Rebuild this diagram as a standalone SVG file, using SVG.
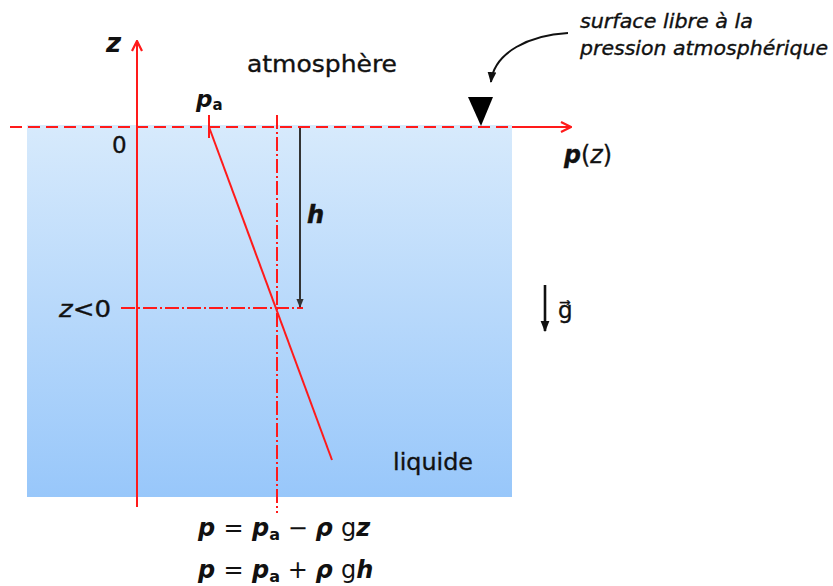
<svg xmlns="http://www.w3.org/2000/svg" width="833" height="586" viewBox="0 0 833 586">
<style>
  .t { font-family: "DejaVu Sans", Verdana, sans-serif; fill: #111; stroke: #111; stroke-width: 0.35; }
  .sym { font-family: "DejaVu Sans", Verdana, sans-serif; font-style: italic; font-weight: bold; fill: #111; }
  .red { stroke: #ff1a1a; stroke-width: 2; fill: none; }
</style>
<defs>
  <linearGradient id="water" x1="0" y1="0" x2="0" y2="1">
    <stop offset="0" stop-color="#d7eafc"/>
    <stop offset="1" stop-color="#98c7fa"/>
  </linearGradient>
  <marker id="redHead" viewBox="0 0 12 12" refX="11" refY="6" markerWidth="12" markerHeight="12" markerUnits="userSpaceOnUse" orient="auto">
    <path d="M1,1 L11,6 L1,11" fill="none" stroke="#ff1a1a" stroke-width="2.2"/>
  </marker>
  <marker id="blackHead" viewBox="0 0 10 10" refX="9" refY="5" markerWidth="11" markerHeight="11" markerUnits="userSpaceOnUse" orient="auto">
    <path d="M0,1 L10,5 L0,9 Z" fill="#111"/>
  </marker>
  <marker id="grayHead" viewBox="0 0 10 10" refX="9" refY="5" markerWidth="9" markerHeight="9" markerUnits="userSpaceOnUse" orient="auto">
    <path d="M0,1 L10,5 L0,9 Z" fill="#333"/>
  </marker>
</defs>

<g id="liquid">
  <rect x="27" y="125" width="485" height="372" fill="url(#water)"/>
  <text class="t" x="393" y="470" font-size="23" textLength="80" lengthAdjust="spacingAndGlyphs">liquide</text>
</g>

<g id="connectors">
  <line class="red" x1="10" y1="127" x2="512" y2="127" stroke-dasharray="12,6"/>
  <line class="red" x1="512" y1="127" x2="571" y2="127" marker-end="url(#redHead)"/>
  <line class="red" x1="137" y1="507" x2="137" y2="41" marker-end="url(#redHead)"/>
  <line class="red" x1="209" y1="115" x2="209" y2="138"/>
  <line class="red" x1="209" y1="127" x2="332" y2="460"/>
  <line class="red" x1="277" y1="115" x2="277" y2="513" stroke-width="1.5" stroke-dasharray="14,3,2,3"/>
  <line class="red" x1="121" y1="308" x2="303" y2="308" stroke-width="1.5" stroke-dasharray="14,3,2,3"/>
  <line x1="300" y1="128" x2="300" y2="307" stroke="#333" stroke-width="2" marker-end="url(#grayHead)"/>
  <line x1="545" y1="285" x2="545" y2="331" stroke="#111" stroke-width="2.6" marker-end="url(#blackHead)"/>
  <path d="M568,33 C530,35 494,52 491,82" fill="none" stroke="#111" stroke-width="2" marker-end="url(#blackHead)"/>
</g>

<g id="surface-marker">
  <path d="M468,97 L493,97 L481,126 Z" fill="#000"/>
</g>

<g id="labels">
  <text class="sym" x="106" y="52" font-size="26">z</text>
  <text class="t" x="247" y="72" font-size="23" textLength="150" lengthAdjust="spacingAndGlyphs">atmosphère</text>
  <text class="sym" x="196" y="107" font-size="23">p<tspan font-size="15" font-style="normal" dy="3">a</tspan></text>
  <text class="t" x="112" y="153" font-size="23">0</text>
  <text class="t" x="564" y="163" font-size="25" textLength="48" lengthAdjust="spacingAndGlyphs"><tspan font-style="italic" font-weight="bold">p</tspan>(<tspan font-style="italic">z</tspan>)</text>
  <text class="sym" x="307" y="223" font-size="24" font-weight="normal" stroke="#111" stroke-width="0.5">h</text>
  <text class="t" x="59" y="317" font-size="23" textLength="52" lengthAdjust="spacingAndGlyphs"><tspan font-style="italic">z</tspan>&lt;0</text>
  <text class="t" x="558" y="318" font-size="23">g⃗</text>
  <text class="t" x="580" y="28" font-size="19" font-style="italic" textLength="173" lengthAdjust="spacingAndGlyphs">surface libre à la</text>
  <text class="t" x="580" y="55" font-size="19" font-style="italic" textLength="248" lengthAdjust="spacingAndGlyphs">pression atmosphérique</text>
</g>

<g id="equations">
  <text class="sym" x="198" y="536" font-size="24">p <tspan font-style="normal" font-weight="normal">=</tspan> p<tspan font-size="16" font-style="normal" dy="4">a</tspan><tspan dy="-4" font-style="normal" font-weight="normal"> − </tspan><tspan>ρ </tspan><tspan font-style="normal" font-weight="normal">g</tspan>z</text>
  <text class="sym" x="198" y="578" font-size="24">p <tspan font-style="normal" font-weight="normal">=</tspan> p<tspan font-size="16" font-style="normal" dy="4">a</tspan><tspan dy="-4" font-style="normal" font-weight="normal"> + </tspan><tspan>ρ </tspan><tspan font-style="normal" font-weight="normal">g</tspan>h</text>
</g>
</svg>
